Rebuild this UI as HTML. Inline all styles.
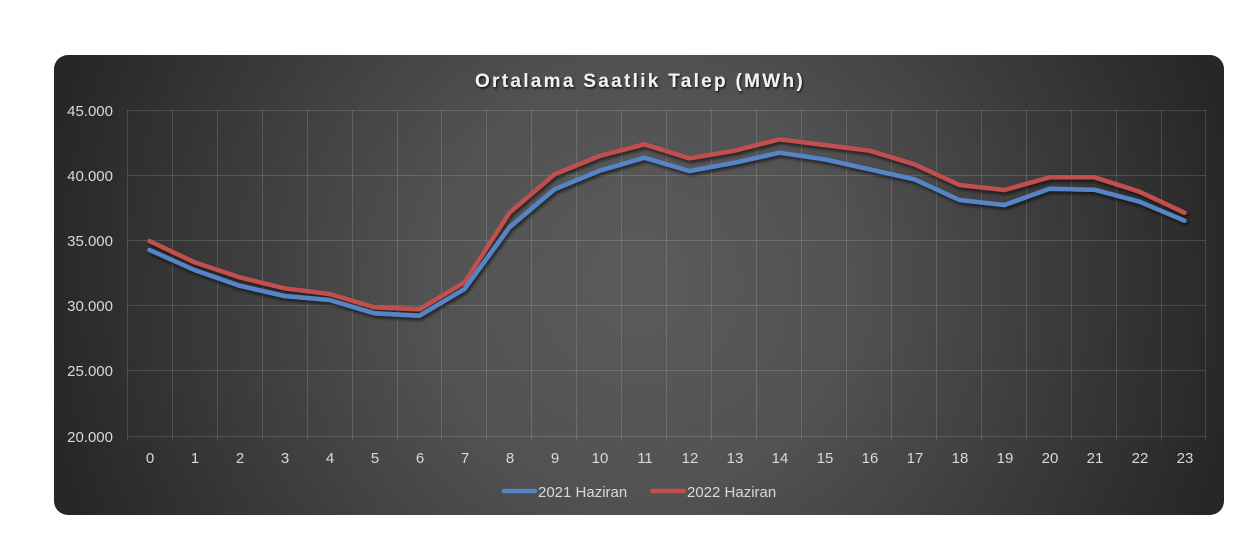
<!DOCTYPE html>
<html>
<head>
<meta charset="utf-8">
<style>
  html,body{margin:0;padding:0;background:#ffffff;}
  body{width:1244px;height:538px;overflow:hidden;}
  svg{display:block;}
  text{font-family:"Liberation Sans", Arial, sans-serif;}
</style>
</head>
<body>
<svg width="1244" height="538" viewBox="0 0 1244 538" xmlns="http://www.w3.org/2000/svg">
  <defs>
    <radialGradient id="bg" gradientUnits="userSpaceOnUse" cx="639" cy="285" r="600">
      <stop offset="0" stop-color="#5b5b5b"/>
      <stop offset="0.35" stop-color="#525252"/>
      <stop offset="1" stop-color="#272727"/>
    </radialGradient>
    <filter id="sh" x="-5%" y="-20%" width="110%" height="140%">
      <feDropShadow dx="1.5" dy="2.5" stdDeviation="1.5" flood-color="#000" flood-opacity="0.6"/>
    </filter>
    <filter id="tsh" x="-5%" y="-30%" width="110%" height="160%">
      <feDropShadow dx="1" dy="1.5" stdDeviation="1" flood-color="#000" flood-opacity="0.8"/>
    </filter>
  </defs>

  <rect x="54" y="55" width="1170" height="460" rx="14" ry="14" fill="url(#bg)"/>

  <!-- title -->
  <text x="640" y="87" text-anchor="middle" font-size="19" font-weight="bold" letter-spacing="2.3" fill="#f2f2f2" filter="url(#tsh)">Ortalama Saatlik Talep (MWh)</text>

  <!-- gridlines -->
  <g stroke="#ffffff" stroke-opacity="0.14" stroke-width="1" fill="none">
    <line x1="127" y1="110.5" x2="1206" y2="110.5"/>
    <line x1="127" y1="175.5" x2="1206" y2="175.5"/>
    <line x1="127" y1="240.5" x2="1206" y2="240.5"/>
    <line x1="127" y1="305.5" x2="1206" y2="305.5"/>
    <line x1="127" y1="370.5" x2="1206" y2="370.5"/>
    <line x1="127" y1="436.5" x2="1206" y2="436.5"/>
    <line x1="127.5" y1="110" x2="127.5" y2="441"/>
    <line x1="172.5" y1="110" x2="172.5" y2="441"/>
    <line x1="217.5" y1="110" x2="217.5" y2="441"/>
    <line x1="262.5" y1="110" x2="262.5" y2="441"/>
    <line x1="307.5" y1="110" x2="307.5" y2="441"/>
    <line x1="352.5" y1="110" x2="352.5" y2="441"/>
    <line x1="397.5" y1="110" x2="397.5" y2="441"/>
    <line x1="441.5" y1="110" x2="441.5" y2="441"/>
    <line x1="486.5" y1="110" x2="486.5" y2="441"/>
    <line x1="531.5" y1="110" x2="531.5" y2="441"/>
    <line x1="576.5" y1="110" x2="576.5" y2="441"/>
    <line x1="621.5" y1="110" x2="621.5" y2="441"/>
    <line x1="666.5" y1="110" x2="666.5" y2="441"/>
    <line x1="711.5" y1="110" x2="711.5" y2="441"/>
    <line x1="756.5" y1="110" x2="756.5" y2="441"/>
    <line x1="801.5" y1="110" x2="801.5" y2="441"/>
    <line x1="846.5" y1="110" x2="846.5" y2="441"/>
    <line x1="891.5" y1="110" x2="891.5" y2="441"/>
    <line x1="936.5" y1="110" x2="936.5" y2="441"/>
    <line x1="981.5" y1="110" x2="981.5" y2="441"/>
    <line x1="1026.5" y1="110" x2="1026.5" y2="441"/>
    <line x1="1071.5" y1="110" x2="1071.5" y2="441"/>
    <line x1="1116.5" y1="110" x2="1116.5" y2="441"/>
    <line x1="1161.5" y1="110" x2="1161.5" y2="441"/>
    <line x1="1205.5" y1="110" x2="1205.5" y2="441"/>
  </g>

  <!-- y labels -->
  <g font-size="15" fill="#d9d9d9" text-anchor="end">
    <text x="113" y="116">45.000</text>
    <text x="113" y="181">40.000</text>
    <text x="113" y="246">35.000</text>
    <text x="113" y="311">30.000</text>
    <text x="113" y="376">25.000</text>
    <text x="113" y="442">20.000</text>
  </g>

  <!-- x labels -->
  <g font-size="15" fill="#d9d9d9" text-anchor="middle">
    <text x="150" y="463">0</text>
    <text x="195" y="463">1</text>
    <text x="240" y="463">2</text>
    <text x="285" y="463">3</text>
    <text x="330" y="463">4</text>
    <text x="375" y="463">5</text>
    <text x="420" y="463">6</text>
    <text x="465" y="463">7</text>
    <text x="510" y="463">8</text>
    <text x="555" y="463">9</text>
    <text x="600" y="463">10</text>
    <text x="645" y="463">11</text>
    <text x="690" y="463">12</text>
    <text x="735" y="463">13</text>
    <text x="780" y="463">14</text>
    <text x="825" y="463">15</text>
    <text x="870" y="463">16</text>
    <text x="915" y="463">17</text>
    <text x="960" y="463">18</text>
    <text x="1005" y="463">19</text>
    <text x="1050" y="463">20</text>
    <text x="1095" y="463">21</text>
    <text x="1140" y="463">22</text>
    <text x="1185" y="463">23</text>
  </g>

  <!-- series -->
  <g fill="none" stroke-width="4.5" stroke-linejoin="round" stroke-linecap="round" filter="url(#sh)">
    <polyline stroke="#c0504d" points="149.5,241 194.5,262.3 239.5,277.3 284.5,288.3 329.5,294 374.5,307.3 419.5,309.3 464.5,282.3 509.5,212.7 554.5,174.3 599.5,156 644.5,144.3 689.5,158.3 734.5,150.7 779.5,139.3 824.5,145 869.5,150.7 914.5,164.3 959.5,185 1004.5,190 1049.5,177.3 1094.5,177.3 1139.5,191.7 1184.5,212.7"/>
    <polyline stroke="#5585c6" points="149.5,250 194.5,270 239.5,285.7 284.5,296 329.5,300 374.5,313.3 419.5,315.7 464.5,289 509.5,227.3 554.5,189.3 599.5,170.7 644.5,157.7 689.5,171 734.5,162.7 779.5,152.7 824.5,159.3 869.5,169.3 914.5,179.3 959.5,200 1004.5,205 1049.5,188.7 1094.5,189.7 1139.5,201.7 1184.5,220.7"/>
  </g>

  <!-- legend -->
  <g stroke-width="4.5" stroke-linecap="round">
    <line x1="504" y1="491" x2="535" y2="491" stroke="#5585c6"/>
    <line x1="652" y1="491" x2="684" y2="491" stroke="#c0504d"/>
  </g>
  <g font-size="15" fill="#d9d9d9">
    <text x="538" y="497">2021 Haziran</text>
    <text x="687" y="497">2022 Haziran</text>
  </g>
</svg>
</body>
</html>
